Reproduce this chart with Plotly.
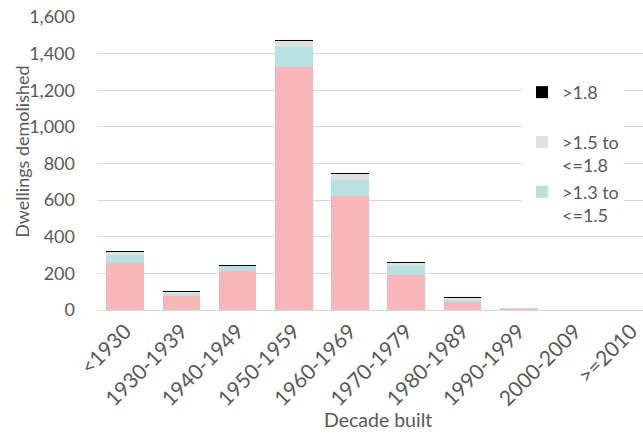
import plotly.graph_objects as go

# Decade built categories
decades = ["<1930", "1930-1939", "1940-1949", "1950-1959", "1960-1969",
           "1970-1979", "1980-1989", "1990-1999", "2000-2009", ">=2010"]

# Dwellings demolished, stacked by ratio band
le_1_3 = [255, 77, 214, 1328, 624, 189, 44, 4, 0, 0]
gt_1_3_le_1_5 = [45, 13, 27, 110, 86, 53, 12, 2, 0, 0]
gt_1_5_le_1_8 = [16, 9, 2, 32, 35, 15, 11, 4, 0, 0]
gt_1_8 = [6, 5, 5, 5, 5, 6, 5, 1, 0, 0]

y_ticks = [0, 200, 400, 600, 800, 1000, 1200, 1400, 1600]
y_tick_text = ["0", "200", "400", "600", "800", "1,000", "1,200", "1,400", "1,600"]

FONT = "Lato"
TXT = "#595959"
GRID = "#d9d9d9"

# plot area in pixels
L, T, B, W = 97, 17, 310.3, 643
PW, PH = W - L, B - T


def add_band(values, name, color, show=True):
    # a hairline outline in the fill colour keeps thin segments pixel-snapped
    fig.add_bar(x=decades, y=values, name=name, showlegend=show,
                marker=dict(color=color, line=dict(color=color, width=0.02)))


fig = go.Figure()
add_band(le_1_3, "<=1.3", "#f7b6b9", show=False)
add_band(gt_1_3_le_1_5, ">1.3 to<br><=1.5", "#b8e1e2")
add_band(gt_1_5_le_1_8, ">1.5 to<br><=1.8", "#e1e1e3")
add_band(gt_1_8, ">1.8<br> ", "#000000")

fig.update_layout(
    width=643, height=434,
    margin=dict(l=L, r=0, t=T, b=434 - B),
    barmode="stack", bargap=0.33,
    plot_bgcolor="white", paper_bgcolor="white",
    font=dict(family=FONT, color=TXT, size=17),
    legend=dict(
        x=(522 - L) / PW, xanchor="left",
        y=1 - (74 - T) / PH, yanchor="top",
        traceorder="reversed", valign="top",
        bgcolor="white", borderwidth=0,
        font=dict(family=FONT, color=TXT, size=18),
    ),
    xaxis=dict(
        range=[-0.5, 9.21], tickangle=-45, showgrid=False,
        showline=False, ticks="", ticklabelstandoff=4,
        tickfont=dict(size=21),
    ),
    yaxis=dict(
        range=[0, 1600], tickvals=y_ticks, ticktext=y_tick_text,
        showgrid=True, gridcolor=GRID, gridwidth=1.3,
        zeroline=True, zerolinecolor=GRID, zerolinewidth=1.3,
        showline=False, ticks="", ticklabelstandoff=21,
        tickfont=dict(size=18),
    ),
    annotations=[
        dict(text="Decade built", xref="paper", yref="paper",
             x=(378 - L) / PW, y=-(420 - B) / PH, xanchor="center",
             yanchor="middle", showarrow=False, font=dict(size=19.5)),
        dict(text="Dwellings demolished", xref="paper", yref="paper",
             x=-(L - 22) / PW, y=(B - 152) / PH, xanchor="center",
             yanchor="middle", textangle=-90, showarrow=False,
             font=dict(size=18)),
    ],
)

fig.write_html("out.html")
